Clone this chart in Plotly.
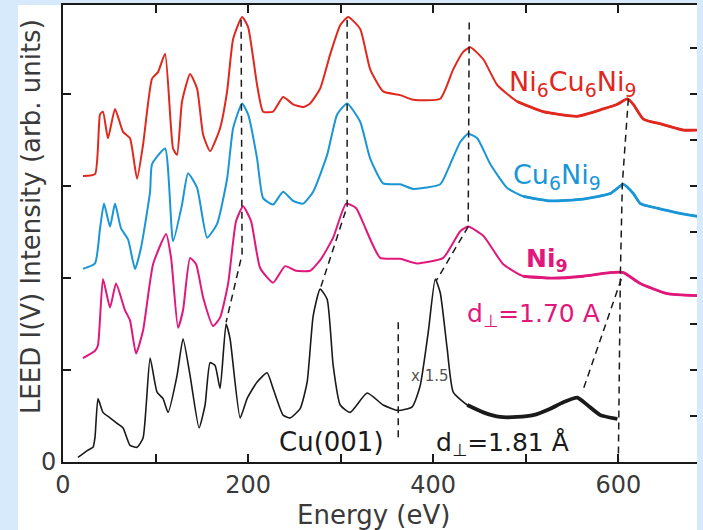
import plotly.graph_objects as go

# ---- LEED I(V) spectra (energy in eV, intensity in arbitrary units, curves offset) ----
energy_cu = [16.2, 27.0, 32.4, 34.6, 37.8, 43.2, 50.8, 58.4, 64.9, 72.4, 80.0, 86.5,
             94.1, 101.6, 108.1, 113.5, 123.2, 129.7, 137.3, 147.0, 153.5, 158.9, 164.3,
             169.7, 176.2, 180.5, 191.4, 198.9, 209.7, 220.5, 227.0, 237.8, 245.4, 256.2,
             263.8, 270.3, 277.8, 285.4, 291.9, 299.5, 310.3, 328.6, 345.9, 362.2, 377.3,
             385.9, 394.6, 402.2, 407.6, 415.1, 421.6, 436.8, 454.1, 472.4, 490.8, 508.1,
             526.5, 540.5, 555.7, 566.5, 580.5, 598.9]
intensity_cu = [0.05, 0.13, 0.16, 0.27, 0.69, 0.54, 0.48, 0.42, 0.37, 0.18, 0.16, 0.26,
                1.13, 0.76, 0.69, 0.54, 0.94, 1.34, 0.94, 0.37, 0.62, 1.08, 1.05,
                0.80, 1.50, 1.34, 0.48, 0.69, 0.87, 0.97, 0.80, 0.51, 0.48, 0.58,
                0.87, 1.59, 1.88, 1.77, 1.05, 0.62, 0.54, 0.75, 0.62, 0.56, 0.60,
                0.83, 1.41, 1.99, 1.84, 1.23, 0.76, 0.62, 0.54, 0.49, 0.49, 0.51,
                0.58, 0.65, 0.70, 0.62, 0.51, 0.47]

energy_ni9 = [21.6, 34.6, 37.8, 43.2, 50.8, 57.3, 67.0, 72.4, 78.9, 86.5, 97.3, 111.4,
              116.8, 124.3, 129.7, 137.3, 143.8, 151.4, 162.2, 169.7, 178.4, 187.0, 194.6,
              203.2, 213.0, 227.0, 240.0, 251.9, 267.0, 278.9, 291.9, 305.9, 316.8, 324.3,
              342.7, 364.3, 382.7, 410.8, 429.2, 437.8, 454.1, 475.7, 497.3, 526.5, 562.2,
              591.4, 605.4, 623.8, 653.0, 685.4]
intensity_ni9 = [1.13, 1.21, 1.27, 1.99, 1.68, 1.94, 1.65, 1.54, 1.18, 1.43, 2.15, 2.48,
                 2.22, 1.46, 1.65, 2.22, 2.15, 1.79, 1.48, 1.57, 1.94, 2.62, 2.78,
                 2.62, 2.11, 1.95, 2.13, 2.08, 2.08, 2.21, 2.44, 2.81, 2.76, 2.60,
                 2.22, 2.21, 2.16, 2.22, 2.51, 2.56, 2.46, 2.15, 2.02, 2.00, 2.02,
                 2.06, 2.06, 1.94, 1.83, 1.81]

energy_cu6ni9 = [21.6, 34.6, 40.0, 44.3, 50.8, 56.2, 62.7, 70.3, 77.8, 84.3, 94.1, 96.2,
                 110.3, 118.9, 128.6, 135.1, 144.9, 155.7, 166.5, 177.3, 183.8, 193.5,
                 200.0, 209.7, 216.2, 227.0, 237.8, 248.6, 259.5, 270.3, 285.4, 296.2,
                 307.0, 321.1, 331.9, 345.9, 364.3, 378.4, 407.6, 418.4, 429.2, 437.8,
                 447.6, 461.6, 480.0, 497.3, 526.5, 562.2, 591.4, 605.4, 616.2, 623.8,
                 642.2, 663.8, 686.5]
intensity_cu6ni9 = [2.10, 2.16, 2.54, 2.81, 2.56, 2.81, 2.54, 2.42, 2.10, 2.33, 2.94, 3.24,
                    3.41, 2.40, 2.80, 3.14, 2.98, 2.44, 2.59, 3.08, 3.63, 3.90,
                    3.78, 3.30, 2.87, 2.80, 2.94, 2.84, 2.81, 2.94, 3.34, 3.78,
                    3.90, 3.70, 3.30, 3.03, 3.02, 2.97, 3.02, 3.24, 3.48, 3.57,
                    3.52, 3.24, 2.98, 2.89, 2.84, 2.86, 2.92, 3.02, 2.92, 2.81,
                    2.76, 2.71, 2.67]

energy_ni6cu6ni9 = [21.6, 34.6, 40.0, 43.2, 48.6, 56.2, 64.9, 72.4, 80.0, 86.5, 96.2, 102.7,
                    110.3, 118.9, 123.2, 128.6, 137.3, 144.9, 151.4, 158.9, 169.7, 177.3,
                    183.8, 193.5, 200.0, 209.7, 216.2, 227.0, 237.8, 248.6, 259.5, 267.0,
                    277.8, 288.6, 299.5, 308.1, 321.1, 331.9, 345.9, 364.3, 378.4, 407.6,
                    421.6, 432.4, 440.0, 454.1, 469.2, 490.8, 518.9, 555.7, 583.8, 598.9,
                    609.7, 616.2, 627.0, 648.6, 670.3, 686.5]
intensity_ni6cu6ni9 = [3.11, 3.13, 3.78, 3.81, 3.52, 3.84, 3.59, 3.52, 3.08, 3.45, 4.17, 4.24,
                       4.44, 3.41, 3.34, 3.92, 4.22, 4.06, 3.56, 3.38, 3.63, 4.03,
                       4.60, 4.84, 4.73, 4.10, 3.81, 3.81, 3.97, 3.89, 3.86, 3.90,
                       4.06, 4.43, 4.75, 4.84, 4.71, 4.27, 4.03, 3.99, 3.94, 3.95,
                       4.27, 4.46, 4.51, 4.38, 4.10, 3.92, 3.81, 3.76, 3.84, 3.89,
                       3.95, 3.89, 3.73, 3.67, 3.61, 3.61]

# ---- dashed guides joining corresponding peaks ----
guide_a_e = [192.4, 193.5, 176.2]
guide_a_i = [4.81, 2.26, 1.52]
guide_b_e = [307.0, 307.0, 277.8]
guide_b_i = [4.81, 2.78, 1.88]
guide_c_e = [438.9, 437.8, 403.2]
guide_c_i = [4.78, 2.56, 1.97]
guide_d_e = [610.8, 604.3, 602.2, 600.0]
guide_d_i = [3.95, 3.02, 2.03, 0.0]
guide_e_e = [603.2, 561.1]
guide_e_i = [1.99, 0.76]
guide_f_e = [362.2, 362.2]
guide_f_i = [1.52, 0.22]

# ---- axis ticks ----
x_tickvals = [0, 100, 200, 300, 400, 500, 600]
x_ticktext = ["0", "", "200", "", "400", "", "600"]
y_tickvals = [0, 1, 2, 3, 4]
y_ticktext = ["0", "", "", "", ""]

RED = "#e0281e"
BLUE = "#1a96d6"
MAGENTA = "#e0187c"
BLACK = "#1a1a1a"
TEXT = "#3a3a3a"
FONT = "DejaVu Sans, Liberation Sans, Arial, sans-serif"

fig = go.Figure()

def curve(x, y, color, width):
    fig.add_trace(go.Scatter(x=x, y=y, mode="lines",
                             line=dict(color=color, width=width, shape="spline", smoothing=0.5),
                             hoverinfo="skip", showlegend=False))

def tail_of(x, y, start):
    idx = [k for k, e in enumerate(x) if e >= start]
    return [x[k] for k in idx], [y[k] for k in idx]

for ex, iy, col in [(energy_ni6cu6ni9, intensity_ni6cu6ni9, RED),
                    (energy_cu6ni9, intensity_cu6ni9, BLUE),
                    (energy_ni9, intensity_ni9, MAGENTA)]:
    curve(ex, iy, col, 2)
    # slightly heavier stroke where the high-energy data are noisier
    tx, ty = tail_of(ex, iy, 490)
    curve(tx, ty, col, 2.8)

curve(energy_cu, intensity_cu, BLACK, 1.6)
tx, ty = tail_of(energy_cu, intensity_cu, 436)
curve(tx, ty, BLACK, 3.8)

for ge, gi in [(guide_a_e, guide_a_i), (guide_b_e, guide_b_i), (guide_c_e, guide_c_i),
               (guide_d_e, guide_d_i), (guide_e_e, guide_e_i), (guide_f_e, guide_f_i)]:
    fig.add_trace(go.Scatter(x=ge, y=gi, mode="lines",
                             line=dict(color=BLACK, width=1.5, dash="7px,5px"),
                             hoverinfo="skip", showlegend=False))

# second y axis carries the finer tick marks on the right edge
fig.add_trace(go.Scatter(x=[None], y=[None], yaxis="y2", showlegend=False, hoverinfo="skip"))

def label(text, x, y, color, size, bold=False):
    if bold:
        text = "<b>" + text + "</b>"
    fig.add_annotation(x=x, y=y, text=text, showarrow=False, xanchor="center", yanchor="middle",
                       font=dict(family=FONT, size=size, color=color))

label("Ni<sub>6</sub>Cu<sub>6</sub>Ni<sub>9</sub>", 551, 4.12, RED, 27)
label("Cu<sub>6</sub>Ni<sub>9</sub>", 534, 3.10, BLUE, 27)
label("Ni<sub>9</sub>", 523, 2.20, MAGENTA, 25, bold=True)
label("d<sub>⊥</sub>=1.70 A", 508, 1.60, MAGENTA, 25)
label("Cu(001)", 290, 0.22, BLACK, 26)
label("d<sub>⊥</sub>=1.81 Å", 475, 0.20, BLACK, 25)
label("x 1.5", 397, 0.94, "#555555", 15)

# axis titles
fig.add_annotation(xref="paper", yref="paper", x=-0.0505, y=0.538, textangle=-90,
                   text="LEED I(V) Intensity (arb. units)", showarrow=False,
                   xanchor="center", yanchor="middle",
                   font=dict(family=FONT, size=26, color=TEXT))
fig.add_annotation(xref="paper", yref="paper", x=0.49, y=-0.115,
                   text="Energy (eV)", showarrow=False, xanchor="center", yanchor="middle",
                   font=dict(family=FONT, size=26, color=TEXT))

axis_common = dict(showgrid=False, zeroline=False, ticks="inside", ticklen=8, tickwidth=1.5,
                   tickcolor=BLACK, tickfont=dict(family=FONT, size=24, color=TEXT))

fig.update_layout(
    width=703, height=530,
    margin=dict(l=63, r=6, t=3, b=68),
    paper_bgcolor="#d6eafb",
    plot_bgcolor="rgba(0,0,0,0)",
    font=dict(family=FONT, color=TEXT),
    xaxis=dict(range=[0, 685], tickvals=x_tickvals, ticktext=x_ticktext,
               showline=True, linecolor=BLACK, linewidth=2, mirror="ticks",
               **axis_common),
    yaxis=dict(range=[0, 4.97], tickvals=y_tickvals, ticktext=y_ticktext,
               showline=True, linecolor=BLACK, linewidth=2,
               **axis_common),
    yaxis2=dict(range=[0, 4.97], overlaying="y", side="right", dtick=0.5, showticklabels=False,
                showline=False, showgrid=False, zeroline=False, ticks="inside", ticklen=7,
                tickwidth=1.5, tickcolor=BLACK),
    shapes=[dict(type="rect", xref="paper", yref="paper", x0=-0.071, x1=1.0, y0=-0.2, y1=1.0,
                 fillcolor="white", line=dict(width=0), layer="below")],
)

fig.write_html("out.html")
